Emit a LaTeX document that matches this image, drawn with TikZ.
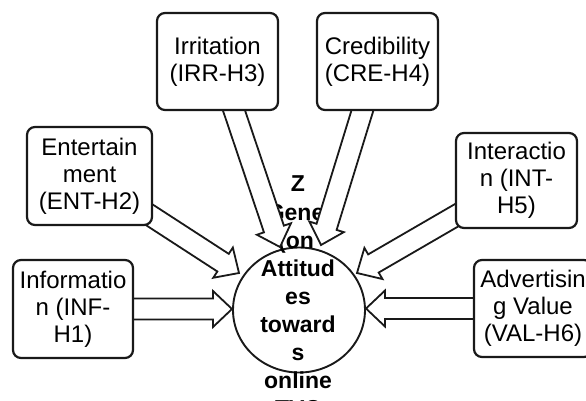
\documentclass[tikz,border=0pt]{standalone}
\usepackage{fontspec}
\setmainfont{Liberation Sans}
\usetikzlibrary{calc,shapes.geometric}
\newcommand\blockarrow[2]{%
  \coordinate (hb) at ($(#2)!19pt!(#1)$);
  \draw[barrow] ($(#1)!10.5pt!90:(#2)$) -- ($(hb)!10.5pt!90:(#2)$) -- ($(hb)!18pt!90:(#2)$) -- (#2)
    -- ($(hb)!18pt!-90:(#2)$) -- ($(hb)!10.5pt!-90:(#2)$) -- ($(#1)!10.5pt!-90:(#2)$) -- cycle;
}
\begin{document}
\begin{tikzpicture}[x=1pt,y=-1pt,
  box/.style={draw=black!90, line width=2.2pt, rounded corners=8pt, fill=white, align=center,
    font=\fontsize{24}{27}\selectfont, inner sep=0pt, text=black},
  ctext/.style={font=\fontsize{23}{28}\selectfont\bfseries, anchor=base, inner sep=0pt, text=black},
  barrow/.style={draw=black!90, line width=1.8pt, fill=white, line join=miter}]
\useasboundingbox (0,0) rectangle (586,400);
% central node
\node[draw=black!90, line width=1.9pt, ellipse, fill=white, minimum width=132pt, minimum height=125pt, inner sep=0pt] (att) at (299,310) {};
\node[ctext] (t1) at (298,191) {Z};
\node[ctext] (t2) at (300,220) {Gener};
\node[ctext] (t3) at (296,248) {(on};
\node[ctext] (t4) at (298,276) {Attitud};
\node[ctext] (t5) at (298,304) {es};
\node[ctext] (t6) at (298,332) {toward};
\node[ctext] (t7) at (298,360) {s};
\node[ctext] (t8) at (298,388) {online};
\node[ctext] (t9) at (298,416) {TVC};
% arrow tips
\coordinate (tinf) at (232,309);
\coordinate (tval) at (366,308.5);
\coordinate (tent) at (239,273);
\coordinate (tint) at (357,273);
\coordinate (tirr) at (280,247);
\coordinate (tcre) at (321,245);
% box centres
\coordinate (cirr) at (217.5,61.5);
\coordinate (ccre) at (377.5,61.5);
\coordinate (cent) at (89.5,176);
\coordinate (cint) at (516.5,180.5);
\coordinate (cinf) at (73,309);
\coordinate (cval) at (533,308.5);
% arrows
\blockarrow{cinf}{tinf}
\blockarrow{cval}{tval}
\blockarrow{cent}{tent}
\blockarrow{cint}{tint}
\blockarrow{cirr}{tirr}
\blockarrow{ccre}{tcre}
% boxes
\node[box, minimum width=121pt, minimum height=97pt] (irr) at (cirr) {Irritation\\(IRR-H3)};
\node[box, minimum width=121pt, minimum height=97pt] (cre) at (ccre) {Credibility\\(CRE-H4)};
\node[box, minimum width=125pt, minimum height=98pt] (ent) at (cent) {Entertain\\ment\\(ENT-H2)};
\node[box, minimum width=121pt, minimum height=95pt] (int) at (cint) {Interactio\\n (INT-\\H5)};
\node[box, minimum width=120pt, minimum height=98pt] (inf) at (cinf) {Informatio\\n (INF-\\H1)};
\node[box, minimum width=118pt, minimum height=97pt] (val) at (cval) {Advertisin\\g Value\\(VAL-H6)};
\end{tikzpicture}
\end{document}
